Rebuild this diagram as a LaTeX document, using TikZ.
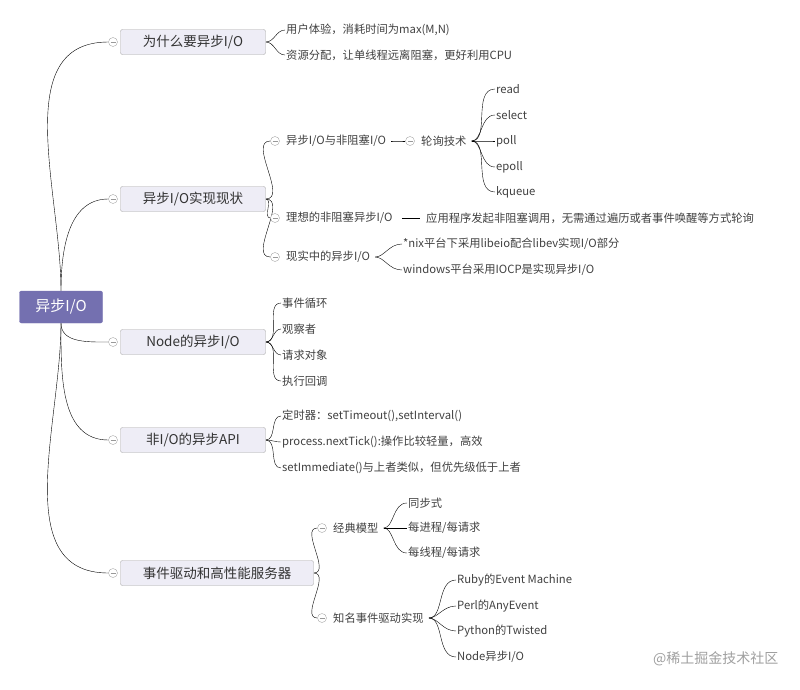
\documentclass[tikz,border=0pt]{standalone}
\usepackage{fontspec}
\setmainfont{Noto Sans CJK SC}
\usetikzlibrary{backgrounds}
\definecolor{rootfill}{HTML}{7470B0}
\definecolor{boxfill}{HTML}{EEEDF6}
\definecolor{linkgray}{HTML}{A8A6B4}
\tikzset{
  root/.style={draw=rootfill, fill=rootfill, rounded corners=2pt, text=white, font=\fontsize{15}{17}\selectfont, minimum width=83pt, minimum height=32pt},
  topic/.style={draw=gray!70, fill=boxfill, rounded corners=2pt, font=\fontsize{13.5}{15}\selectfont, minimum height=25pt, inner xsep=8pt, text=black!80},
  leaf/.style={anchor=west, font=\fontsize{11.3}{13}\selectfont, text=black!75, inner xsep=1pt},
  tog/.style={circle, draw=gray!70, fill=white, minimum size=9pt, inner sep=0pt,
    path picture={\draw[gray!80] ([xshift=-2.5pt]path picture bounding box.center) -- ([xshift=2.5pt]path picture bounding box.center);}},
  link/.style={draw=linkgray, line width=0.5pt}
}
\begin{document}
\begin{tikzpicture}[x=1pt,y=-1pt]
  \useasboundingbox (0,0) rectangle (800,689);
  % root and topics
  \node[root] (r) at (61,307) {异步I/O};
  \node[topic, minimum width=145pt] (t1) at (193,42) {为什么要异步I/O};
  \node[topic, minimum width=145pt] (t2) at (193,199) {异步I/O实现现状};
  \node[topic, minimum width=145pt] (t3) at (193,342) {Node的异步I/O};
  \node[topic, minimum width=145pt] (t4) at (193,440) {非I/O的异步API};
  \node[topic, minimum width=193pt] (t5) at (217,573) {事件驱动和高性能服务器};
  \foreach \i/\y in {1/42,2/199,3/342,4/440,5/573}
    \node[tog] (c\i) at (113,\y) {};
  % topic 1
  \node[leaf] (a1) at (285,30) {用户体验，消耗时间为max(M,N)};
  \node[leaf] (a2) at (285,55) {资源分配，让单线程远离阻塞，更好利用CPU};
  % topic 2
  \node[tog] (c21) at (275,141) {};
  \node[tog] (c22) at (275,218) {};
  \node[tog] (c23) at (275,257) {};
  \node[leaf] (b1) at (285,141) {异步I/O与非阻塞I/O};
  \node[leaf] (b2) at (285,218) {理想的非阻塞异步I/O};
  \node[leaf] (b3) at (285,257) {现实中的异步I/O};
  \node[tog] (c211) at (410,141) {};
  \node[leaf] (b11) at (420,141) {轮询技术};
  \foreach \n/\y/\t in {p1/89/read,p2/115/select,p3/141/poll,p4/167/epoll,p5/192/kqueue}
    \node[leaf] (\n) at (495,\y) {\t};
  \node[leaf] (b21) at (425,218) {应用程序发起非阻塞调用，无需通过遍历或者事件唤醒等方式轮询};
  \node[leaf] (b31) at (402,244) {*nix平台下采用libeio配合libev实现I/O部分};
  \node[leaf] (b32) at (402,270) {windows平台采用IOCP是实现异步I/O};
  % topic 3
  \node[leaf] (d1) at (281,303) {事件循环};
  \node[leaf] (d2) at (281,329) {观察者};
  \node[leaf] (d3) at (281,355) {请求对象};
  \node[leaf] (d4) at (281,381) {执行回调};
  % topic 4
  \node[leaf] (e1) at (281,416) {定时器：setTimeout(),setInterval()};
  \node[leaf] (e2) at (281,442) {process.nextTick():操作比较轻量，高效};
  \node[leaf] (e3) at (281,468) {setImmediate()与上者类似，但优先级低于上者};
  % topic 5
  \node[tog] (c51) at (322,528) {};
  \node[tog] (c52) at (322,618) {};
  \node[leaf] (f1) at (332,528) {经典模型};
  \node[leaf] (f2) at (332,618) {知名事件驱动实现};
  \node[leaf] (g1) at (407,503) {同步式};
  \node[leaf] (g2) at (407,528) {每进程/每请求};
  \node[leaf] (g3) at (407,553) {每线程/每请求};
  \node[leaf] (h1) at (456,580) {Ruby的Event Machine};
  \node[leaf] (h2) at (456,606) {Perl的AnyEvent};
  \node[leaf] (h3) at (456,631) {Python的Twisted};
  \node[leaf] (h4) at (456,657) {Node异步I/O};
  \node[font=\fontsize{14}{16}\selectfont, text=gray!75, anchor=east] (wm) at (782,659) {@稀土掘金技术社区};
  % connectors
  \begin{scope}[on background layer, link]
    \draw (r.north) to[out=90,in=180] (c1.west);
    \draw (r.north) to[out=90,in=180] (c2.west);
    \draw (r.south) to[out=-90,in=180] (c3.west);
    \draw (r.south) to[out=-90,in=180] (c4.west);
    \draw (r.south) to[out=-90,in=180] (c5.west);
    \foreach \n in {a1,a2} \draw (t1.east) to[out=0,in=180] (\n.west);
    \foreach \n in {c21,c22,c23} \draw (t2.east) to[out=0,in=180] (\n.west);
    \draw[shorten <=4pt] (b1.east) to[out=0,in=180] (c211.west);
    \foreach \n in {p1,p2,p3,p4,p5} \draw[shorten <=4pt] (b11.east) to[out=0,in=180] (\n.west);
    \draw[shorten <=8pt, shorten >=5pt] (b2.east) -- (b21.west);
    \foreach \n in {b31,b32} \draw[shorten <=4pt] (b3.east) to[out=0,in=180] (\n.west);
    \foreach \n in {d1,d2,d3,d4} \draw (t3.east) to[out=0,in=180] (\n.west);
    \foreach \n in {e1,e2,e3} \draw (t4.east) to[out=0,in=180] (\n.west);
    \foreach \n in {c51,c52} \draw (t5.east) to[out=0,in=180] (\n.west);
    \foreach \n in {g1,g2,g3} \draw[shorten <=4pt] (f1.east) to[out=0,in=180] (\n.west);
    \foreach \n in {h1,h2,h3,h4} \draw[shorten <=4pt] (f2.east) to[out=0,in=180] (\n.west);
  \end{scope}
\end{tikzpicture}
\end{document}
